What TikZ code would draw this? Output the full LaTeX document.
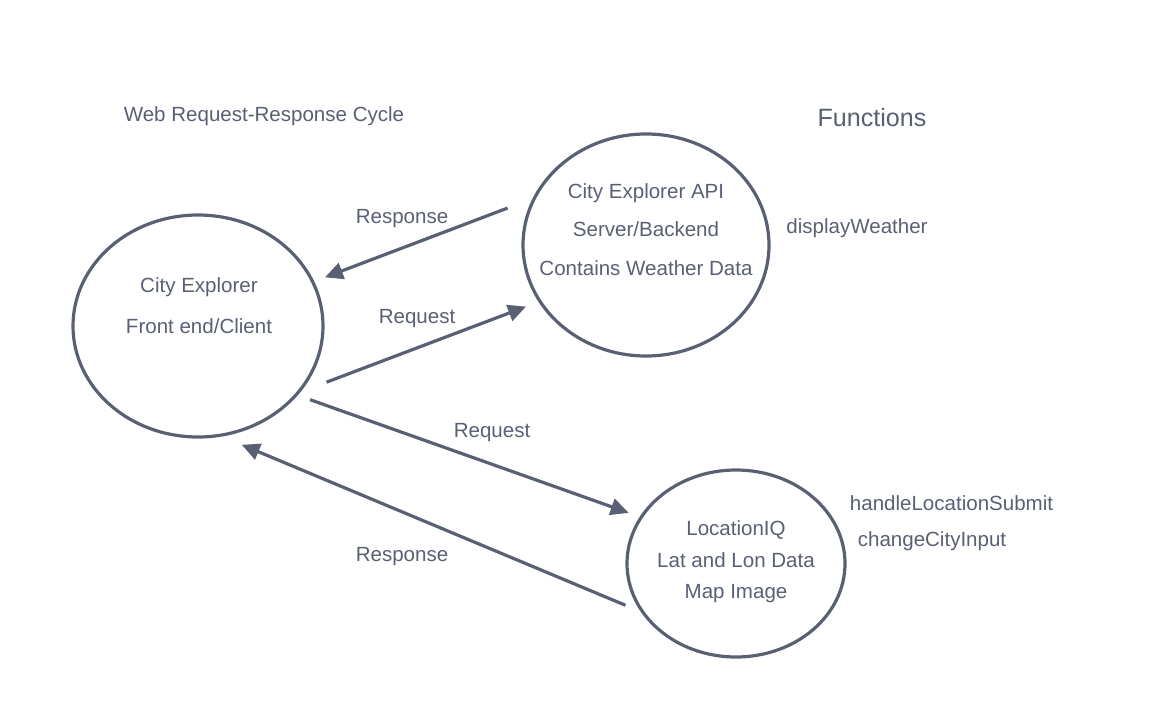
\documentclass[tikz,border=0pt]{standalone}
\usepackage{fontspec}
\setmainfont{Liberation Sans}
\usetikzlibrary{arrows.meta,shapes.geometric}
\definecolor{ink}{HTML}{5A6074}

\begin{document}
\begin{tikzpicture}[x=0.75pt, y=-0.75pt, >={Triangle[length=13.5pt,width=12.5pt]},
    line width=2.4pt, ink, font=\fontsize{15.4}{18}\selectfont,
    bubble/.style={ellipse, draw, inner sep=0pt, outer sep=0pt},
    txt/.style={anchor=base, inner sep=0pt}]
    \useasboundingbox (0,0) rectangle (1169,706);

    % Headings
    \node [txt] (title) at (264,122) {Web Request-Response Cycle};
    \node [txt, font=\fontsize{18.8}{22}\selectfont] (funcs) at (872,127) {Functions};

    % Nodes {client, api, lociq}
    \node [bubble, minimum width=187.5pt, minimum height=166.5pt] (client) at (198,326) {};
    \node [bubble, minimum width=184.5pt, minimum height=166.5pt] (api)    at (646,245) {};
    \node [bubble, minimum width=163.5pt, minimum height=140.25pt] (lociq) at (736,563.5) {};

    % Texts inside the nodes
    \node [txt] (clientA) at (199,292) {City Explorer};
    \node [txt] (clientB) at (199,333) {Front end/Client};
    \node [txt] (apiA)    at (646,198) {City Explorer API};
    \node [txt] (apiB)    at (646,236) {Server/Backend};
    \node [txt] (apiC)    at (646,275) {Contains Weather Data};
    \node [txt] (lociqA)  at (736,535) {LocationIQ};
    \node [txt] (lociqB)  at (736,567) {Lat and Lon Data};
    \node [txt] (lociqC)  at (736,598) {Map Image};

    % Functions
    \node [txt] (fnWeather)  at (857,233) {displayWeather};
    \node [txt] (fnSubmit)   at (951.5,510) {handleLocationSubmit};
    \node [txt] (fnCity)     at (932,546) {changeCityInput};

    % Paths
    \path [->] (api.157.6)   edge [shorten <=21.75pt, shorten >=9.8pt]  (client.21.2);
    \path [->] (client.-34.4) edge [shorten <=23.25pt, shorten >=11.2pt] (api.208.8);
    \path [->] (client.-35.1) edge [shorten <=11.1pt, shorten >=10pt]   (lociq.154.8);
    \path [->] (lociq.208.5) edge [shorten <=14.55pt, shorten >=18.3pt] (client.-79.9);

    % Labels
    \node [txt] (respTop) at (402,223) {Response};
    \node [txt] (reqTop)  at (417,323) {Request};
    \node [txt] (reqBot)  at (492,437) {Request};
    \node [txt] (respBot) at (402,561) {Response};
\end{tikzpicture}
\end{document}
